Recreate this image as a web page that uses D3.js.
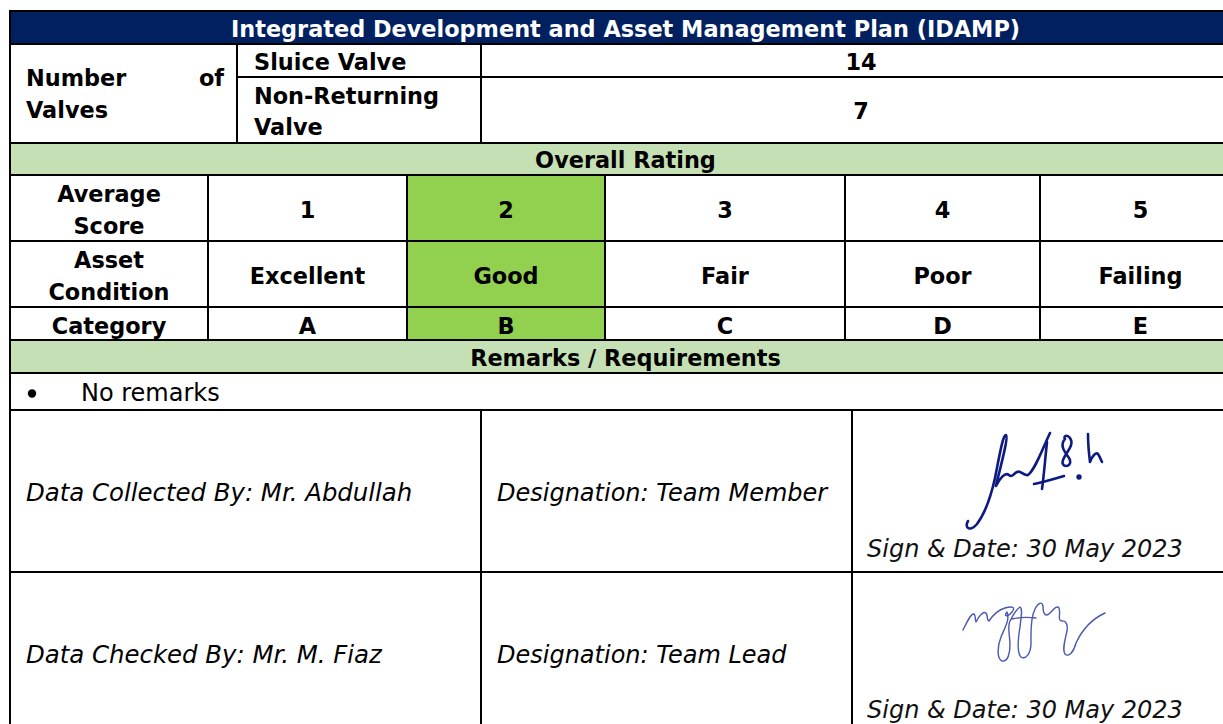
<!DOCTYPE html>
<html>
<head>
<meta charset="utf-8">
<script src="https://cdn.jsdelivr.net/npm/d3@7"></script>
<style>
  html, body { margin: 0; padding: 0; background: #fff; overflow: hidden; }
  svg { display: block; }
  text { font-family: "DejaVu Sans", sans-serif; fill: #000; }
</style>
</head>
<body>
<script>
// ---------------- data ----------------
const title = "Integrated Development and Asset Management Plan (IDAMP)";
const valveGroupLabel = ["Number", "of", "Valves"];
const valveTypes = [["Sluice Valve"], ["Non-Returning", "Valve"]];
const valveCounts = [14, 7];
const ratingHeader = "Overall Rating";
const rowLabels = [["Average", "Score"], ["Asset", "Condition"], ["Category"]];
const scores = [1, 2, 3, 4, 5];
const conditions = ["Excellent", "Good", "Fair", "Poor", "Failing"];
const categories = ["A", "B", "C", "D", "E"];
const overallScore = 2;
const remarksHeader = "Remarks / Requirements";
const remarks = ["No remarks"];
const collectors = ["Data Collected By: Mr. Abdullah", "Data Checked By: Mr. M. Fiaz"];
const designations = ["Designation: Team Member", "Designation: Team Lead"];
const signDates = ["Sign & Date: 30 May 2023", "Sign & Date: 30 May 2023"];

// ---------------- layout ----------------
const W = 1223, H = 724;
const L = 10, R = 1241;
const rowEdges = [11, 44, 77, 143, 175, 241, 307, 340, 373, 410, 572, 734];
const topCols = [L, 237, 481, R];
const ratingCols = [L, 208, 407, 605, 845, 1040, R];
const bottomCols = [L, 481, 852, R];

const C = {
  navy: "#002060",
  band: "#C5E0B4",
  hi: "#92D050",
  line: "#000",
  sig1: "#0d1a80",
  sig2: "#4a58b0"
};
const boldSize = 22.4, regSize = 24;

const svg = d3.select("body").append("svg").attr("width", W).attr("height", H);

// scales
const y = d3.scaleOrdinal().domain(d3.range(rowEdges.length)).range(rowEdges);
const rateKeys = ["label", ...scores];
const xRate = d3.scaleOrdinal().domain(rateKeys).range(ratingCols.slice(0, -1));
const xRateEnd = d3.scaleOrdinal().domain(rateKeys).range(ratingCols.slice(1));
const xTop = d3.scaleOrdinal().domain(["group", "type", "count"]).range(topCols.slice(0, -1));
const xTopEnd = d3.scaleOrdinal().domain(["group", "type", "count"]).range(topCols.slice(1));
const xBot = d3.scaleOrdinal().domain(["who", "desig", "sign"]).range(bottomCols.slice(0, -1));
const xBotEnd = d3.scaleOrdinal().domain(["who", "desig", "sign"]).range(bottomCols.slice(1));

const gFill = svg.append("g");
const gText = svg.append("g");
const gLines = svg.append("g");

function hline(x1, x2, yy) {
  gLines.append("line").attr("x1", x1 - 1).attr("x2", x2 + 1).attr("y1", yy).attr("y2", yy)
    .attr("stroke", C.line).attr("stroke-width", 2);
}
function vline(xx, y1, y2) {
  gLines.append("line").attr("x1", xx).attr("x2", xx).attr("y1", y1 - 1).attr("y2", y2 + 1)
    .attr("stroke", C.line).attr("stroke-width", 2);
}
function label(lines, x, y0, y1, opts = {}) {
  const n = lines.length;
  const lh = opts.lh || 32;
  const cy = (y0 + y1) / 2;
  const t = gText.append("text")
    .attr("text-anchor", opts.anchor || "middle")
    .attr("font-size", opts.size || boldSize)
    .attr("font-weight", opts.weight || "bold")
    .attr("font-style", opts.style || "normal")
    .style("fill", opts.color || "#000");
  lines.forEach((s, i) => {
    t.append("tspan").attr("x", x)
      .attr("y", cy + (i - (n - 1) / 2) * lh + (opts.shift || 1))
      .attr("dy", "0.36em").text(s);
  });
  return t;
}

// ---- header ----
gFill.append("rect").attr("x", L).attr("y", y(0)).attr("width", R - L).attr("height", y(1) - y(0)).attr("fill", C.navy);
label([title], (L + R) / 2, y(0), y(1), { color: "#fff", shift: 0 });

// ---- number of valves ----
label([valveGroupLabel[0]], L + 16, y(1), y(3), { anchor: "start" }).select("tspan").attr("y", 78);
label([valveGroupLabel[1]], xTopEnd("group") - 13, y(1), y(3), { anchor: "end" }).select("tspan").attr("y", 78);
label([valveGroupLabel[2]], L + 16, y(1), y(3), { anchor: "start" }).select("tspan").attr("y", 110);

valveTypes.forEach((lines, i) => {
  const y0 = y(1 + i), y1 = y(2 + i);
  label(lines, xTop("type") + 17, y0, y1, { anchor: "start", lh: 31, shift: 0 });
  label([String(valveCounts[i])], (xTop("count") + xTopEnd("count")) / 2, y0, y1, { shift: 0 });
});

// ---- overall rating ----
gFill.append("rect").attr("x", L).attr("y", y(3)).attr("width", R - L).attr("height", y(4) - y(3)).attr("fill", C.band);
label([ratingHeader], (L + R) / 2, y(3), y(4), { shift: 0 });

gFill.selectAll("rect.hi").data(scores.filter(s => s === overallScore)).join("rect")
  .attr("class", "hi")
  .attr("x", d => xRate(d)).attr("y", y(4))
  .attr("width", d => xRateEnd(d) - xRate(d)).attr("height", y(7) - y(4))
  .attr("fill", C.hi);

const rowsData = [scores.map(String), conditions, categories];
rowLabels.forEach((lines, r) => {
  const y0 = y(4 + r), y1 = y(5 + r);
  label(lines, (xRate("label") + xRateEnd("label")) / 2, y0, y1, { shift: 2 });
  rowsData[r].forEach((v, i) => {
    const k = scores[i];
    label([v], (xRate(k) + xRateEnd(k)) / 2, y0, y1, { shift: 2 });
  });
});

// ---- remarks ----
gFill.append("rect").attr("x", L).attr("y", y(7)).attr("width", R - L).attr("height", y(8) - y(7)).attr("fill", C.band);
label([remarksHeader], (L + R) / 2, y(7), y(8), { shift: 1 });
remarks.forEach((s, i) => {
  gText.append("circle").attr("cx", 32).attr("cy", (y(8) + y(9)) / 2 + 2).attr("r", 4.2).attr("fill", "#000");
  label([s], 81, y(8), y(9), { anchor: "start", weight: "normal", size: regSize, shift: 1 });
});

// ---- sign-off ----
collectors.forEach((s, i) => {
  const y0 = y(9 + i), y1 = y(10 + i);
  label([s], xBot("who") + 16, y0, y1, { anchor: "start", weight: "normal", style: "italic", size: 24.4, shift: 0 });
  label([designations[i]], xBot("desig") + 16, y0, y1, { anchor: "start", weight: "normal", style: "italic", size: 24, shift: 0 });
  gText.append("text").attr("x", xBot("sign") + 15).attr("y", y1 - 15 + (i ? -1 : 0))
    .attr("font-size", 24).attr("font-style", "italic").attr("font-weight", 300)
    .style("fill", "#111")
    .text(signDates[i]);
});

// signatures (decorative strokes)
const sig1 = svg.append("g").attr("transform", "translate(860,420)")
  .attr("fill", "none").attr("stroke", C.sig1).attr("stroke-width", 2.6).attr("stroke-linecap", "round").attr("stroke-linejoin", "round");
sig1.append("path").attr("d", "M108,101 C104,108 110,112 117,104 C126,92 131,76 135,58 C139,38 143,14 146,15 C149,17 139,52 136,66 C140,58 145,52 149,55 C152,58 153,54 157,52 C161,50 163,56 168,55 C175,50 182,30 190,13");
sig1.append("path").attr("d", "M174,64 C184,62 194,59 204,56");
sig1.append("path").attr("d", "M187,22 C185,40 184,55 182,69");
sig1.append("path").attr("d", "M205,19 C198,27 208,35 210,40 C212,48 200,48 203,40 C206,32 215,25 210,18 C207,14 203,16 205,19");
sig1.append("path").attr("d", "M228,14 C228,24 229,34 230,42 C232,36 236,32 238,34 C240,37 241,40 242,42");
sig1.append("circle").attr("cx", 219).attr("cy", 57).attr("r", 1.4).attr("fill", C.sig1);

const sig2 = svg.append("g").attr("transform", "translate(860,575)")
  .attr("fill", "none").attr("stroke", C.sig2).attr("stroke-width", 1.4).attr("stroke-linecap", "round").attr("stroke-linejoin", "round");
sig2.append("path").attr("d", "M103,55 C107,47 111,38 114,39 C116,41 115,47 116,47 C119,41 123,36 126,38 C128,41 127,46 129,46 C133,40 138,35 145,33 C152,31 156,32 152,37 C148,42 143,42 147,37 C150,45 145,52 141,62 C137,72 137,84 142,86 C148,87 150,78 150,70 C150,60 147,52 150,46 C153,40 157,34 160,32 C163,34 161,42 160,52 C158,64 157,78 161,82 C166,85 171,78 171,68 C171,58 170,44 175,34 C178,28 182,26 183,31 C183,40 186,42 190,38 C194,34 197,30 199,33 C201,38 197,46 202,46 C206,45 208,50 207,56 C205,65 202,75 205,79 C209,83 214,76 216,68 C222,55 232,44 245,38");
sig2.append("path").attr("d", "M152,44 C160,42 168,42 176,43");
</script>
<script>
// ---- grid lines ----
[0, 1, 3, 4, 5, 6, 7, 8, 9, 10].forEach(i => hline(L, R, y(i)));
hline(xTop("type"), R, y(2));
vline(L, y(0), H + 5);
vline(xTop("type"), y(1), y(3));
vline(xTop("count"), y(1), y(3));
ratingCols.slice(1, -1).forEach(xx => vline(xx, y(4), y(7)));
vline(xBot("desig"), y(9), H + 5);
vline(xBot("sign"), y(9), H + 5);
</script>
</body>
</html>
